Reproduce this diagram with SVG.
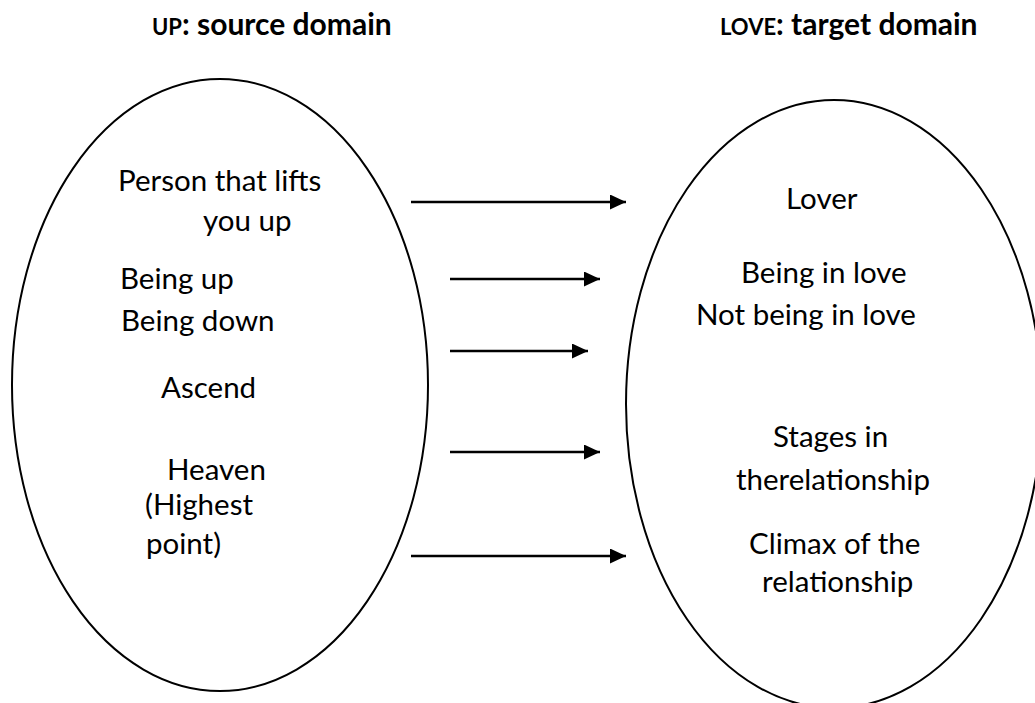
<svg xmlns="http://www.w3.org/2000/svg" width="1035" height="703" viewBox="0 0 1035 703">
<style>
  .t { font-family: Lato, "Open Sans", "Liberation Sans", sans-serif; font-size: 29.5px; fill: #000; }
  .h { font-family: Lato, "Open Sans", "Liberation Sans", sans-serif; font-size: 30px; font-weight: bold; fill: #000; }
  .sc { font-size: 22px; }
  .shape { fill: none; stroke: #000; stroke-width: 2; }
  .arrow { stroke: #000; stroke-width: 2.5; fill: none; marker-end: url(#ah); }
</style>
<defs>
  <marker id="ah" markerWidth="6.4" markerHeight="6" refX="6.4" refY="3" orient="auto" markerUnits="strokeWidth">
    <path d="M0,0 L6.4,3 L0,6 Z" fill="#000"/>
  </marker>
</defs>
<rect width="1035" height="703" fill="#fff"/>
<g id="title-source"><text class="h" x="152" y="35"><tspan class="sc">UP</tspan>: source domain</text></g>
<g id="title-target"><text class="h" x="720" y="35"><tspan class="sc">LOVE</tspan>: target domain</text></g>
<g id="source-domain">
  <ellipse class="shape" cx="220" cy="385" rx="208" ry="306"/>
  <text class="t" x="118" y="191">Person that lifts</text>
  <text class="t" x="203" y="231">you up</text>
  <text class="t" x="120" y="289">Being up</text>
  <text class="t" x="121" y="331">Being down</text>
  <text class="t" x="161" y="398">Ascend</text>
  <text class="t" x="167" y="480">Heaven</text>
  <text class="t" x="145" y="515">(Highest</text>
  <text class="t" x="146" y="554">point)</text>
</g>
<g id="target-domain">
  <ellipse class="shape" cx="834" cy="404" rx="208" ry="304"/>
  <text class="t" x="786" y="209">Lover</text>
  <text class="t" x="741" y="283">Being in love</text>
  <text class="t" x="696" y="325">Not being in love</text>
  <text class="t" x="773" y="447">Stages in</text>
  <text class="t" x="736" y="490">therelationship</text>
  <text class="t" x="749" y="554">Climax of the</text>
  <text class="t" x="762" y="592">relationship</text>
</g>
<g id="connectors">
  <line class="arrow" x1="411" y1="202" x2="626" y2="202"/>
  <line class="arrow" x1="450" y1="279" x2="600" y2="279"/>
  <line class="arrow" x1="450" y1="351" x2="588" y2="351"/>
  <line class="arrow" x1="450" y1="452" x2="600" y2="452"/>
  <line class="arrow" x1="411" y1="556" x2="626" y2="556"/>
</g>
</svg>
